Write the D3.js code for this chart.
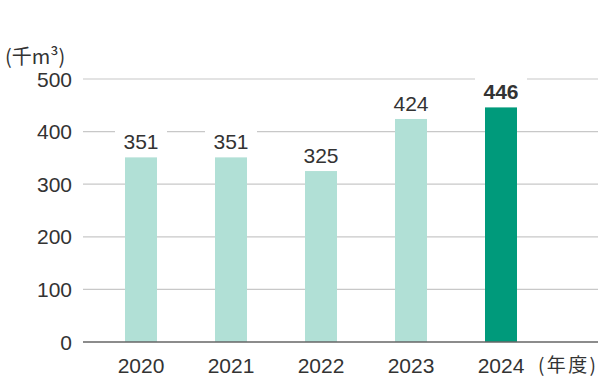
<!DOCTYPE html>
<html>
<head>
<meta charset="utf-8">
<script src="https://cdn.jsdelivr.net/npm/d3@7"></script>
<style>
  body { margin: 0; background: #fff; }
  svg { display: block; font-family: "Liberation Sans", Arial, sans-serif; }
</style>
</head>
<body>
<svg id="chart" width="600" height="378"></svg>
<script>
const years = ['2020', '2021', '2022', '2023', '2024'];
const values = [351, 351, 325, 424, 446];
const yTicks = [0, 100, 200, 300, 400, 500];
const unitLabel = '(千m³)';
const xUnitLabel = '(年度)';

const svg = d3.select('#chart');
const plot = { left: 83, right: 598, top: 79, bottom: 342 };
const fontSize = '21px';

const x = d3.scalePoint()
  .domain(years)
  .range([141, 501]);

const y = d3.scaleLinear()
  .domain([0, 500])
  .range([plot.bottom, plot.top]);

const barWidth = 32;

// grid lines
svg.append('g')
  .selectAll('line')
  .data(yTicks.filter(d => d > 0))
  .enter()
  .append('line')
  .attr('x1', plot.left)
  .attr('x2', plot.right)
  .attr('y1', d => y(d))
  .attr('y2', d => y(d))
  .attr('stroke', '#c8c8c8')
  .attr('stroke-width', 1.2);

// y labels
svg.append('g')
  .selectAll('text')
  .data(yTicks)
  .enter()
  .append('text')
  .attr('x', 72)
  .attr('y', d => y(d))
  .attr('dy', '0.36em')
  .attr('text-anchor', 'end')
  .attr('fill', '#333')
  .style('font-size', fontSize)
  .text(d => d);

// bars
svg.append('g')
  .selectAll('rect')
  .data(values)
  .enter()
  .append('rect')
  .attr('x', (d, i) => x(years[i]) - barWidth / 2)
  .attr('width', barWidth)
  .attr('y', d => y(d))
  .attr('height', d => plot.bottom - y(d))
  .attr('fill', (d, i) => i === values.length - 1 ? '#009a7b' : '#b1e0d6');

// value labels with white backgrounds covering grid lines
const labels = svg.append('g')
  .selectAll('g')
  .data(values)
  .enter()
  .append('g')
  .attr('transform', (d, i) => `translate(${x(years[i])},${y(d) - 8})`);

labels.append('rect')
  .attr('x', -26)
  .attr('y', -24)
  .attr('width', 52)
  .attr('height', 28)
  .attr('fill', '#fff');

labels.append('text')
  .attr('text-anchor', 'middle')
  .attr('fill', '#333')
  .style('font-size', fontSize)
  .style('font-weight', (d, i) => i === values.length - 1 ? 'bold' : 'normal')
  .text(d => d);

// zero axis
svg.append('line')
  .attr('x1', plot.left)
  .attr('x2', plot.right)
  .attr('y1', y(0))
  .attr('y2', y(0))
  .attr('stroke', '#666')
  .attr('stroke-width', 1.5);

// x labels
svg.append('g')
  .selectAll('text')
  .data(years)
  .enter()
  .append('text')
  .attr('x', d => x(d))
  .attr('y', 373)
  .attr('text-anchor', 'middle')
  .attr('fill', '#333')
  .style('font-size', fontSize)
  .text(d => d);

svg.append('text')
  .attr('x', 538)
  .attr('y', 372)
  .attr('fill', '#333')
  .attr('textLength', 58)
  .attr('lengthAdjust', 'spacing')
  .style('font-size', '19px')
  .style('font-family', '"Noto Sans CJK JP", sans-serif')
  .text(xUnitLabel);

svg.append('text')
  .attr('x', 5)
  .attr('y', 64)
  .attr('fill', '#333')
  .style('font-size', '20px')
  .style('font-family', '"Noto Sans CJK JP", sans-serif')
  .text(unitLabel);
</script>
</body>
</html>
